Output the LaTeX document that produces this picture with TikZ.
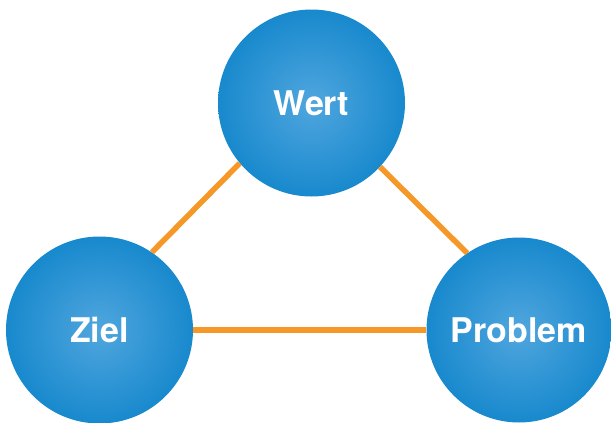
\documentclass[tikz,border=0pt]{standalone}
\usepackage{fontspec}
\setmainfont{TeX Gyre Heros}
\definecolor{ballin}{RGB}{80,166,222}
\definecolor{ballout}{RGB}{6,128,200}
\definecolor{linkorange}{RGB}{245,152,40}
\pgfdeclareradialshading{myball}{\pgfpoint{0bp}{0bp}}{color(0bp)=(ballin); color(33bp)=(ballout); color(50bp)=(ballout); color(100bp)=(ballout)}
\tikzset{
  ball/.style={circle, shading=myball, minimum size=187pt, inner sep=0pt,
    text=white, font=\fontsize{34}{40}\selectfont\bfseries},
  link/.style={draw=linkorange, line width=5.5pt}
}
\begin{document}
\begin{tikzpicture}[x=1pt,y=-1pt]
\useasboundingbox (0,0) rectangle (611,423);
\node[ball] (wert) at (311.5,103) {Wert};
\node[ball] (ziel) at (99.5,330) {Ziel};
\node[ball, minimum size=185pt] (problem) at (519,330) {Problem};
\draw[link] (wert.220.8) -- (ziel.56.9);
\draw[link] (wert.-43.6) -- (problem.124.3);
\draw[link] (ziel) -- (problem);
\end{tikzpicture}
\end{document}
